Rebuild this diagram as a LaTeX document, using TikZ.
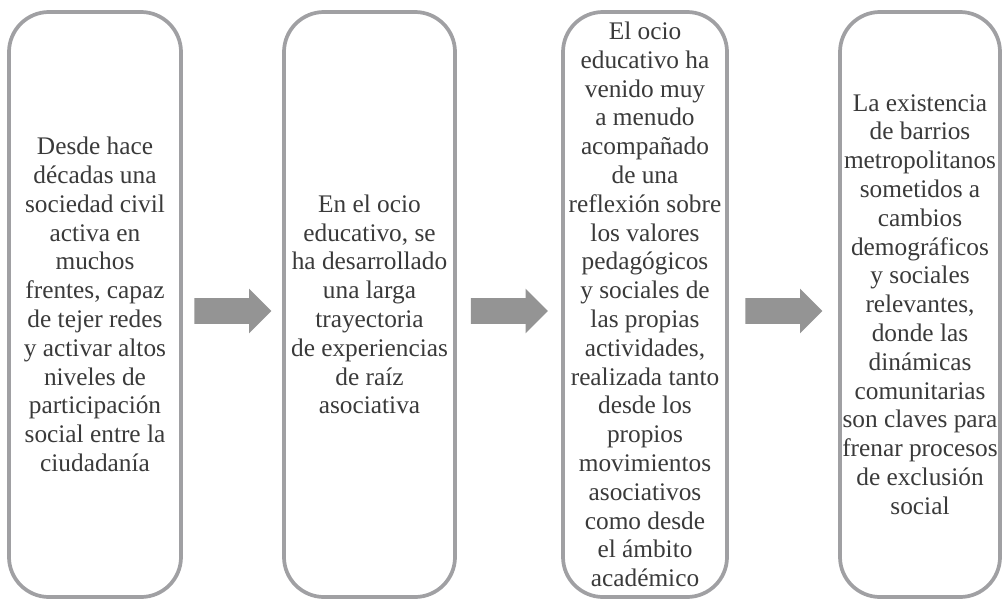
\documentclass[tikz,border=0pt]{standalone}
\usepackage{fontspec}
\setmainfont{Liberation Serif}
\usetikzlibrary{calc}
\usetikzlibrary{shapes.arrows}
\definecolor{boxgray}{RGB}{160,160,163}
\definecolor{arrowgray}{RGB}{148,148,148}
\definecolor{textgray}{RGB}{58,58,58}
\tikzset{stage/.style={rectangle, rounded corners=30pt, draw=boxgray, line width=2.8pt, text=textgray, align=center, font=\fontsize{19}{21.6}\selectfont, minimum height=438.75pt, inner sep=0pt}}
\tikzset{flow/.style={single arrow, fill=arrowgray, draw=none, anchor=tail, minimum height=57.75pt, single arrow head extend=7.1pt, single arrow head indent=0pt, inner xsep=0pt, inner ysep=9.4pt}}

\begin{document}
\begin{tikzpicture}[x=0.75pt,y=-0.75pt]
  \useasboundingbox (0,0) rectangle (1002,600);
  \foreach \x/\w/\lab/\txt in {
    95/129pt/s1/{Desde hace\\décadas una\\sociedad civil\\activa en\\muchos\\frentes, capaz\\de tejer redes\\y activar altos\\niveles de\\participación\\social entre la\\ciudadanía},
    369.5/128.25pt/s2/{En el ocio\\educativo, se\\ha desarrollado\\una larga\\trayectoria\\de experiencias\\de raíz\\asociativa},
    645/123pt/s3/{El ocio\\educativo ha\\venido muy\\a menudo\\acompañado\\de una\\reflexión sobre\\los valores\\pedagógicos\\y sociales de\\las propias\\actividades,\\realizada tanto\\desde los\\propios\\movimientos\\asociativos\\como desde\\el ámbito\\académico},
    920/120pt/s4/{La existencia\\de barrios\\metropolitanos\\sometidos a\\cambios\\demográficos\\y sociales\\relevantes,\\donde las\\dinámicas\\comunitarias\\son claves para\\frenar procesos\\de exclusión\\social}%
  } {
    \node[stage, minimum width=\w] (\lab) at (\x, 304.5) {\txt};
  }
  \foreach \u/\v/\lab in {
    s1/s2/a1,
    s2/s3/a2,
    s3/s4/a3%
  }{
    \node[flow] (\lab) at ($(\u.east)!0.5!(\v.west)+(-38.5,6.5)$) {};
  }
\end{tikzpicture}
\end{document}
